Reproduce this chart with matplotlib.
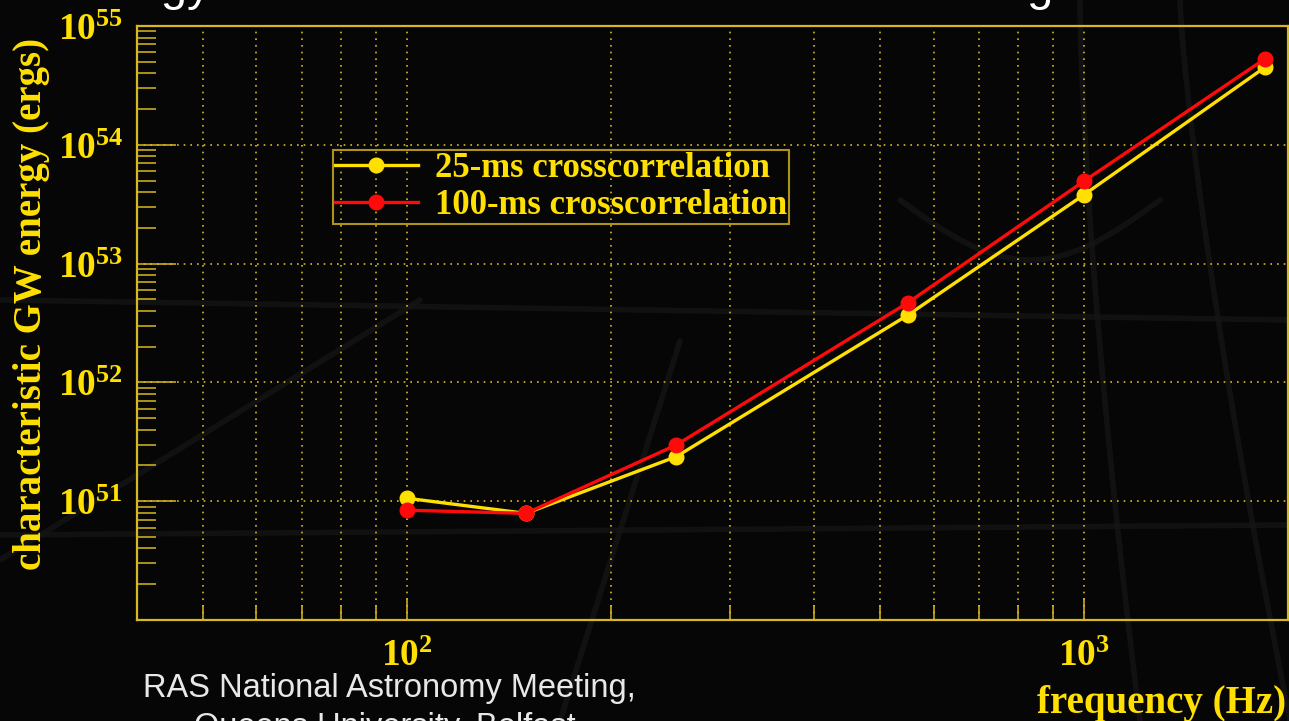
import numpy as np
import matplotlib
matplotlib.use("Agg")
import matplotlib.pyplot as plt
from matplotlib.ticker import LogLocator, FuncFormatter, NullFormatter

# frequencies (Hz) and characteristic GW energy (ergs)
freq = [100, 150, 250, 550, 1000, 1850]
energy_25ms = [1.06e51, 7.9e50, 2.37e51, 3.7e52, 3.8e53, 4.5e54]
energy_100ms = [8.4e50, 7.9e50, 2.97e51, 4.7e52, 4.95e53, 5.3e54]
series_labels = ["25-ms crosscorrelation", "100-ms crosscorrelation"]

YELLOW = "#ffe000"
AXIS_YELLOW = "#d8b820"
RED = "#ff0a0a"

plt.rcParams["mathtext.fontset"] = "custom"
plt.rcParams["mathtext.rm"] = "Liberation Serif"
plt.rcParams["mathtext.bf"] = "Liberation Serif:bold"

fig = plt.figure(figsize=(12.89, 7.21), dpi=100, facecolor="#060606")

# faint streaks of the slide background
bg = fig.add_axes([0, 0, 1, 1], zorder=-10)
bg.set_xlim(0, 1289)
bg.set_ylim(721, 0)
bg.axis("off")
t = np.linspace(0, 1, 50)
streaks = [
    (1080 + 60 * t**1.5, 721 * t),
    (1180 + 110 * t**1.3, 721 * t),
    (900 + 260 * t, 200 + 60 * np.sin(np.pi * t)),
    (0 + 420 * t, 560 - 260 * t),
    (0 + 1289 * t, 300 + 20 * t),
    (0 + 1289 * t, 535 - 10 * t),
    (560 + 120 * t, 721 - 380 * t),
]
for sx, sy in streaks:
    bg.plot(sx, sy, color="#151515", lw=4, alpha=0.8, solid_capstyle="round")

ax = fig.add_axes([137 / 1289, 1 - 620 / 721, 1151 / 1289, 594 / 721])
ax.set_facecolor("none")

ax.plot(freq, energy_25ms, color=YELLOW, lw=2.4, marker="o", ms=10.5,
        label=series_labels[0], zorder=3)
ax.plot(freq, energy_100ms, color=RED, lw=2.4, marker="o", ms=10.5,
        label=series_labels[1], zorder=4)

ax.set_xscale("log")
ax.set_yscale("log")
ax.set_xlim(40, 2000)
ax.set_ylim(1e50, 1e55)


def decade_label(v, pos):
    exp = int(round(np.log10(v)))
    if exp == 50:
        return ""
    return r"$\mathbf{10^{%d}}$" % exp


fmt = FuncFormatter(decade_label)
ax.xaxis.set_major_locator(LogLocator(base=10, numticks=10))
ax.xaxis.set_minor_locator(LogLocator(base=10, subs=np.arange(2, 10), numticks=20))
ax.yaxis.set_major_locator(LogLocator(base=10, numticks=10))
ax.yaxis.set_minor_locator(LogLocator(base=10, subs=np.arange(2, 10), numticks=20))
ax.xaxis.set_major_formatter(fmt)
ax.yaxis.set_major_formatter(fmt)
ax.xaxis.set_minor_formatter(NullFormatter())
ax.yaxis.set_minor_formatter(NullFormatter())

for s in ax.spines.values():
    s.set_color(AXIS_YELLOW)
    s.set_linewidth(1.6)

ax.tick_params(axis="both", which="both", direction="in", colors=AXIS_YELLOW,
               width=1.1, labelcolor=YELLOW, labelsize=27)
ax.tick_params(axis="y", which="major", length=28, pad=10)
ax.tick_params(axis="y", which="minor", length=14)
ax.tick_params(axis="x", which="major", length=16, pad=13)
ax.tick_params(axis="x", which="minor", length=10.5)

ax.grid(True, axis="x", which="both", color=AXIS_YELLOW, ls=(0, (1, 3)), lw=1.2)
ax.grid(True, axis="y", which="major", color=AXIS_YELLOW, ls=(0, (1, 3)), lw=1.2)

label_font = dict(family="Liberation Serif", weight="bold", size=28, color=YELLOW)
ax.set_ylabel("characteristic GW energy (ergs)", **label_font)
ax.yaxis.set_label_coords(-0.076, 0.532)
ax.set_xlabel("frequency (Hz)", loc="right", **label_font)
ax.xaxis.set_label_coords(0.998, -0.11)

leg = ax.legend(loc="upper left", bbox_to_anchor=(333 / 1289, 1 - 150 / 721),
                bbox_transform=fig.transFigure, borderaxespad=0,
                prop=dict(family="Liberation Serif", weight="bold", size=25),
                labelcolor=YELLOW, handlelength=2.4, handletextpad=0.5,
                borderpad=0.05, labelspacing=0.12, fancybox=False)
leg.get_frame().set_facecolor("none")
leg.get_frame().set_edgecolor(AXIS_YELLOW)
leg.get_frame().set_linewidth(1.5)

# slide text around the chart
fig.text(211 / 1289, 1.0, "Energy", ha="right", va="baseline",
         fontsize=34, color="white", family="Liberation Sans")
fig.text(1053 / 1289, 1.0, "g", ha="right", va="baseline",
         fontsize=34, color="white", family="Liberation Sans")
fig.text(143 / 1289, 1 - 697 / 721, "RAS National Astronomy Meeting,",
         ha="left", va="baseline", fontsize=23.5, color="#e8e8e8",
         family="Liberation Sans")
fig.text(385 / 1289, 1 - 736 / 721, "Queens University, Belfast",
         ha="center", va="baseline", fontsize=23.5, color="#e8e8e8",
         family="Liberation Sans")

fig.savefig("out.png", dpi=100, facecolor=fig.get_facecolor())
